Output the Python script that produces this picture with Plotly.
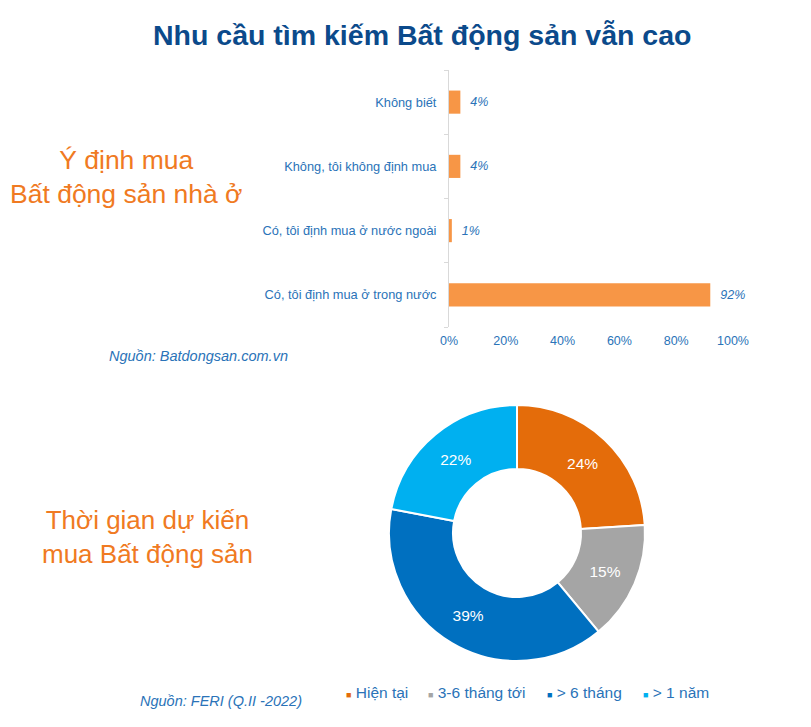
import plotly.graph_objects as go

# bar chart: purchase intention
intent_labels = [
    "Có, tôi định mua ở trong nước",
    "Có, tôi định mua ở nước ngoài",
    "Không, tôi không định mua",
    "Không biết",
]
intent_values = [0.92, 0.01, 0.04, 0.04]

# donut: expected purchase time
time_labels = ["Hiện tại", "3-6 tháng tới", "> 6 tháng", "> 1 năm"]
time_values = [24, 15, 39, 22]
time_colors = ["#E46C0A", "#A5A5A5", "#0070C0", "#00B0F0"]

FONT = "Liberation Sans, Arial, sans-serif"
BLUE = "#2A73B8"
ORANGE = "#F07A22"
W, H = 811, 727
OFF = 8  # page body margin


def px(x):
    return (x - OFF) / W


def py(y):
    return 1 - (y - OFF) / H


fig = go.Figure()

fig.add_trace(go.Bar(
    x=intent_values,
    y=intent_labels,
    orientation="h",
    marker=dict(color="#F79646"),
    text=["{:.0%}".format(v) for v in intent_values],
    texttemplate="  <i>%{text}</i>",
    textposition="outside",
    textfont=dict(size=12.5, color=BLUE, family=FONT),
    cliponaxis=False,
    showlegend=False,
))

fig.add_trace(go.Pie(
    labels=time_labels,
    values=time_values,
    hole=0.5,
    sort=False,
    direction="clockwise",
    rotation=0,
    marker=dict(colors=time_colors, line=dict(color="white", width=2)),
    texttemplate="%{percent:.0%}",
    textposition="inside",
    insidetextorientation="horizontal",
    textfont=dict(size=15.5, color="white", family=FONT),
    domain=dict(x=[px(389), px(645)], y=[py(661), py(405)]),
    automargin=False,
    showlegend=False,
))

annotations = [
    dict(text="<b>Nhu cầu tìm kiếm Bất động sản vẫn cao</b>", x=px(422), y=py(35),
         font=dict(size=28.5, color="#0B4A8B", family=FONT)),
    dict(text="Ý định mua<br>Bất động sản nhà ở", x=px(126), y=py(177),
         font=dict(size=26.5, color=ORANGE, family=FONT)),
    dict(text="Thời gian dự kiến<br>mua Bất động sản", x=px(147), y=py(537),
         font=dict(size=26, color=ORANGE, family=FONT)),
    dict(text="<i>Nguồn: Batdongsan.com.vn</i>", x=px(198), y=py(356),
         font=dict(size=14.5, color=BLUE, family=FONT)),
    dict(text="<i>Nguồn: FERI (Q.II -2022)</i>", x=px(221), y=py(701),
         font=dict(size=14.5, color=BLUE, family=FONT)),
]
for a in annotations:
    a.update(xanchor="center")

# legend for the donut, drawn as text so it sits where the original one does
legend_x = [344, 426, 545, 641]
for lbl, col, lx in zip(time_labels, time_colors, legend_x):
    annotations.append(dict(
        text="<span style='color:{};font-size:9px'>■</span> {}".format(col, lbl),
        x=px(lx), y=py(692), xanchor="left",
        font=dict(size=15.5, color=BLUE, family=FONT),
    ))

for a in annotations:
    a.update(xref="paper", yref="paper", showarrow=False, yanchor="middle")

fig.update_layout(
    template="none",
    width=W, height=H,
    autosize=False,
    margin=dict(l=0, r=0, t=0, b=0, pad=0, autoexpand=False),
    paper_bgcolor="white",
    plot_bgcolor="white",
    font=dict(family=FONT, color=BLUE),
    bargap=0.64,
    xaxis=dict(
        domain=[px(449), px(733)],
        range=[0, 1],
        tickvals=[0, 0.2, 0.4, 0.6, 0.8, 1.0],
        tickformat=".0%",
        tickfont=dict(size=12.5, color=BLUE),
        ticks="",
        ticklabelstandoff=4,
        showgrid=False, zeroline=False, showline=False,
        automargin=False,
        fixedrange=True,
    ),
    yaxis=dict(
        domain=[py(327), py(70)],
        tickfont=dict(size=12.8, color=BLUE),
        showgrid=False, zeroline=False,
        showline=True, linecolor="#D9D9D9", linewidth=1,
        ticks="outside", tickson="boundaries", ticklen=4, tickcolor="#D9D9D9",
        ticklabelstandoff=9,
        automargin=False,
        fixedrange=True,
    ),
    showlegend=False,
    annotations=annotations,
)

fig.write_html("out.html")
